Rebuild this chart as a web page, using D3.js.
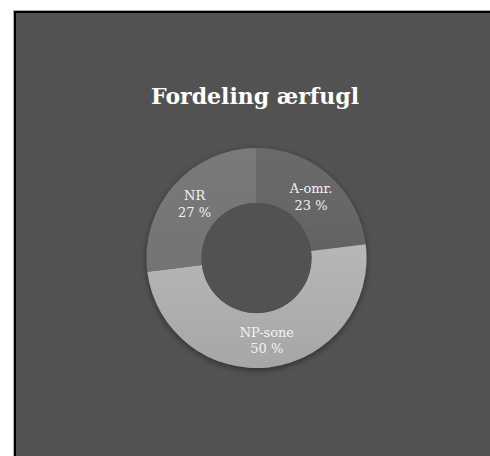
<!DOCTYPE html>
<html>
<head>
<meta charset="utf-8">
<script src="https://cdn.jsdelivr.net/npm/d3@7"></script>
<style>
  body { margin: 0; background: #fff; }
  svg { display: block; }
</style>
</head>
<body>
<div id="chart"></div>
<script>
// data
var categories = ["A-omr.", "NP-sone", "NR"];
var shares = [23, 50, 27];
var title = "Fordeling ærfugl";

var svgWidth = 490, svgHeight = 456;

var svg = d3.select("#chart")
  .append("svg")
  .attr("width", svgWidth)
  .attr("height", svgHeight);

var defs = svg.append("defs");

// slice gradients (top lighter -> bottom darker)
var grads = [
  ["#6a6a6a", "#5c5c5c"],
  ["#c4c4c4", "#a6a6a6"],
  ["#7a7a7a", "#6e6e6e"]
];
grads.forEach(function(g, i) {
  var lg = defs.append("linearGradient")
    .attr("id", "g" + i)
    .attr("gradientUnits", "userSpaceOnUse")
    .attr("x1", 0).attr("y1", -110).attr("x2", 0).attr("y2", 110);
  lg.append("stop").attr("offset", "0%").attr("stop-color", g[0]);
  lg.append("stop").attr("offset", "100%").attr("stop-color", g[1]);
});

var shadow = defs.append("filter").attr("id", "shadow")
  .attr("x", "-20%").attr("y", "-20%").attr("width", "140%").attr("height", "140%");
shadow.append("feDropShadow")
  .attr("dx", 0).attr("dy", 2).attr("stdDeviation", 3)
  .attr("flood-color", "#000").attr("flood-opacity", 0.45);

// frame
svg.append("rect")
  .attr("x", 13.5).attr("y", 10.5)
  .attr("width", 500).attr("height", 500)
  .attr("fill", "none").attr("stroke", "#b0b0b0").attr("stroke-width", 1);
svg.append("rect")
  .attr("x", 15).attr("y", 12)
  .attr("width", 500).attr("height", 500)
  .attr("fill", "#525252").attr("stroke", "#000").attr("stroke-width", 2);

// title
svg.append("text")
  .attr("x", 255)
  .attr("y", 104)
  .attr("text-anchor", "middle")
  .attr("font-family", "DejaVu Serif")
  .attr("font-weight", "bold")
  .attr("font-size", "22px")
  .attr("fill", "#fff")
  .text(title);

// donut
var outerR = 110, innerR = 55;
var chartGroup = svg.append("g")
  .attr("transform", "translate(256.5, 258)");

var pie = d3.pie().sort(null).value(function(d) { return d; });
var arc = d3.arc().innerRadius(innerR).outerRadius(outerR);

var arcs = pie(shares);

chartGroup.append("g")
  .attr("filter", "url(#shadow)")
  .selectAll("path")
  .data(arcs)
  .enter()
  .append("path")
  .attr("d", arc)
  .attr("fill", function(d, i) { return "url(#g" + i + ")"; });

chartGroup.append("circle")
  .attr("r", innerR)
  .attr("fill", "#525252");

var labels = chartGroup.selectAll(".lbl")
  .data(arcs)
  .enter()
  .append("text")
  .attr("class", "lbl")
  .attr("transform", function(d) { return "translate(" + arc.centroid(d) + ")"; })
  .attr("text-anchor", "middle")
  .attr("font-family", "DejaVu Serif")
  .attr("font-size", "13px")
  .attr("fill", "#f2f2f2");

labels.append("tspan")
  .attr("x", 0).attr("dy", "-0.25em")
  .text(function(d, i) { return categories[i]; });
labels.append("tspan")
  .attr("x", 0).attr("dy", "1.3em")
  .text(function(d) { return d.data + " %"; });
</script>
</body>
</html>
